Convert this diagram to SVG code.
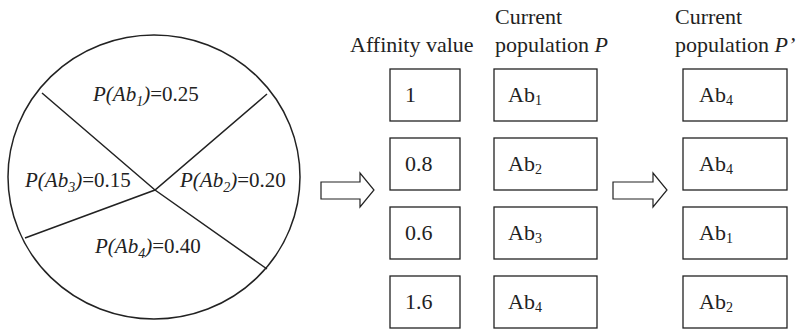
<svg xmlns="http://www.w3.org/2000/svg" width="801" height="330" viewBox="0 0 801 330">
<style>
text{font-family:'Liberation Serif','Times New Roman',Times,'DejaVu Serif',serif;font-size:22px;fill:#222}
.pie{font-size:21px;font-style:italic}
.up{font-style:normal}
.sub{font-size:14px}
.box{fill:#fff;stroke:#222;stroke-width:1.3}
.ln{fill:none;stroke:#222;stroke-width:1.5}
.arr{fill:#fff;stroke:#222;stroke-width:1.2;stroke-linejoin:miter}
</style>
<rect width="801" height="330" fill="#fff"/>
<g id="wheel">
<ellipse class="ln" cx="154" cy="177" rx="146" ry="142"/>
<polyline class="ln" points="42,93 155,190 267,269"/>
<polyline class="ln" points="267,94 155,190 25,238"/>
<text class="pie" x="93" y="101">P(Ab<tspan class="sub" dy="5">1</tspan><tspan dy="-5">)</tspan><tspan class="up">=0.25</tspan></text>
<text class="pie" x="25" y="187">P(Ab<tspan class="sub" dy="5">3</tspan><tspan dy="-5">)</tspan><tspan class="up">=0.15</tspan></text>
<text class="pie" x="180" y="187">P(Ab<tspan class="sub" dy="5">2</tspan><tspan dy="-5">)</tspan><tspan class="up">=0.20</tspan></text>
<text class="pie" x="95" y="253">P(Ab<tspan class="sub" dy="5">4</tspan><tspan dy="-5">)</tspan><tspan class="up">=0.40</tspan></text>
</g>
<g id="headers">
<text x="350" y="52">Affinity value</text>
<text x="495" y="24">Current</text>
<text x="495" y="52">population <tspan font-style="italic">P</tspan></text>
<text x="675" y="24">Current</text>
<text x="675" y="52">population <tspan font-style="italic">P’</tspan></text>
</g>
<g id="affinity">
<g id="a1"><rect class="box" x="390" y="69" width="70" height="52"/><text x="405" y="102">1</text></g>
<g id="a2"><rect class="box" x="390" y="138" width="70" height="52"/><text x="405" y="171">0.8</text></g>
<g id="a3"><rect class="box" x="390" y="207" width="70" height="52"/><text x="405" y="240">0.6</text></g>
<g id="a4"><rect class="box" x="390" y="276" width="70" height="52"/><text x="405" y="309">1.6</text></g>
</g>
<g id="popP">
<g id="p1"><rect class="box" x="494" y="69" width="103" height="52"/><text x="508" y="102">Ab<tspan class="sub" dy="3">1</tspan></text></g>
<g id="p2"><rect class="box" x="494" y="138" width="103" height="52"/><text x="508" y="171">Ab<tspan class="sub" dy="3">2</tspan></text></g>
<g id="p3"><rect class="box" x="494" y="207" width="103" height="52"/><text x="508" y="240">Ab<tspan class="sub" dy="3">3</tspan></text></g>
<g id="p4"><rect class="box" x="494" y="276" width="103" height="52"/><text x="508" y="309">Ab<tspan class="sub" dy="3">4</tspan></text></g>
</g>
<g id="popP2">
<g id="q1"><rect class="box" x="683" y="69" width="104" height="52"/><text x="699" y="102">Ab<tspan class="sub" dy="3">4</tspan></text></g>
<g id="q2"><rect class="box" x="683" y="138" width="104" height="52"/><text x="699" y="171">Ab<tspan class="sub" dy="3">4</tspan></text></g>
<g id="q3"><rect class="box" x="683" y="207" width="104" height="52"/><text x="699" y="240">Ab<tspan class="sub" dy="3">1</tspan></text></g>
<g id="q4"><rect class="box" x="683" y="276" width="104" height="52"/><text x="699" y="309">Ab<tspan class="sub" dy="3">2</tspan></text></g>
</g>
<g id="connectors">
<polygon class="arr" points="321,182 360,182 360,173 374,190 360,207 360,199 321,199"/>
<polygon class="arr" points="613,182 653,182 653,173 667,190 653,207 653,199 613,199"/>
</g>
</svg>
